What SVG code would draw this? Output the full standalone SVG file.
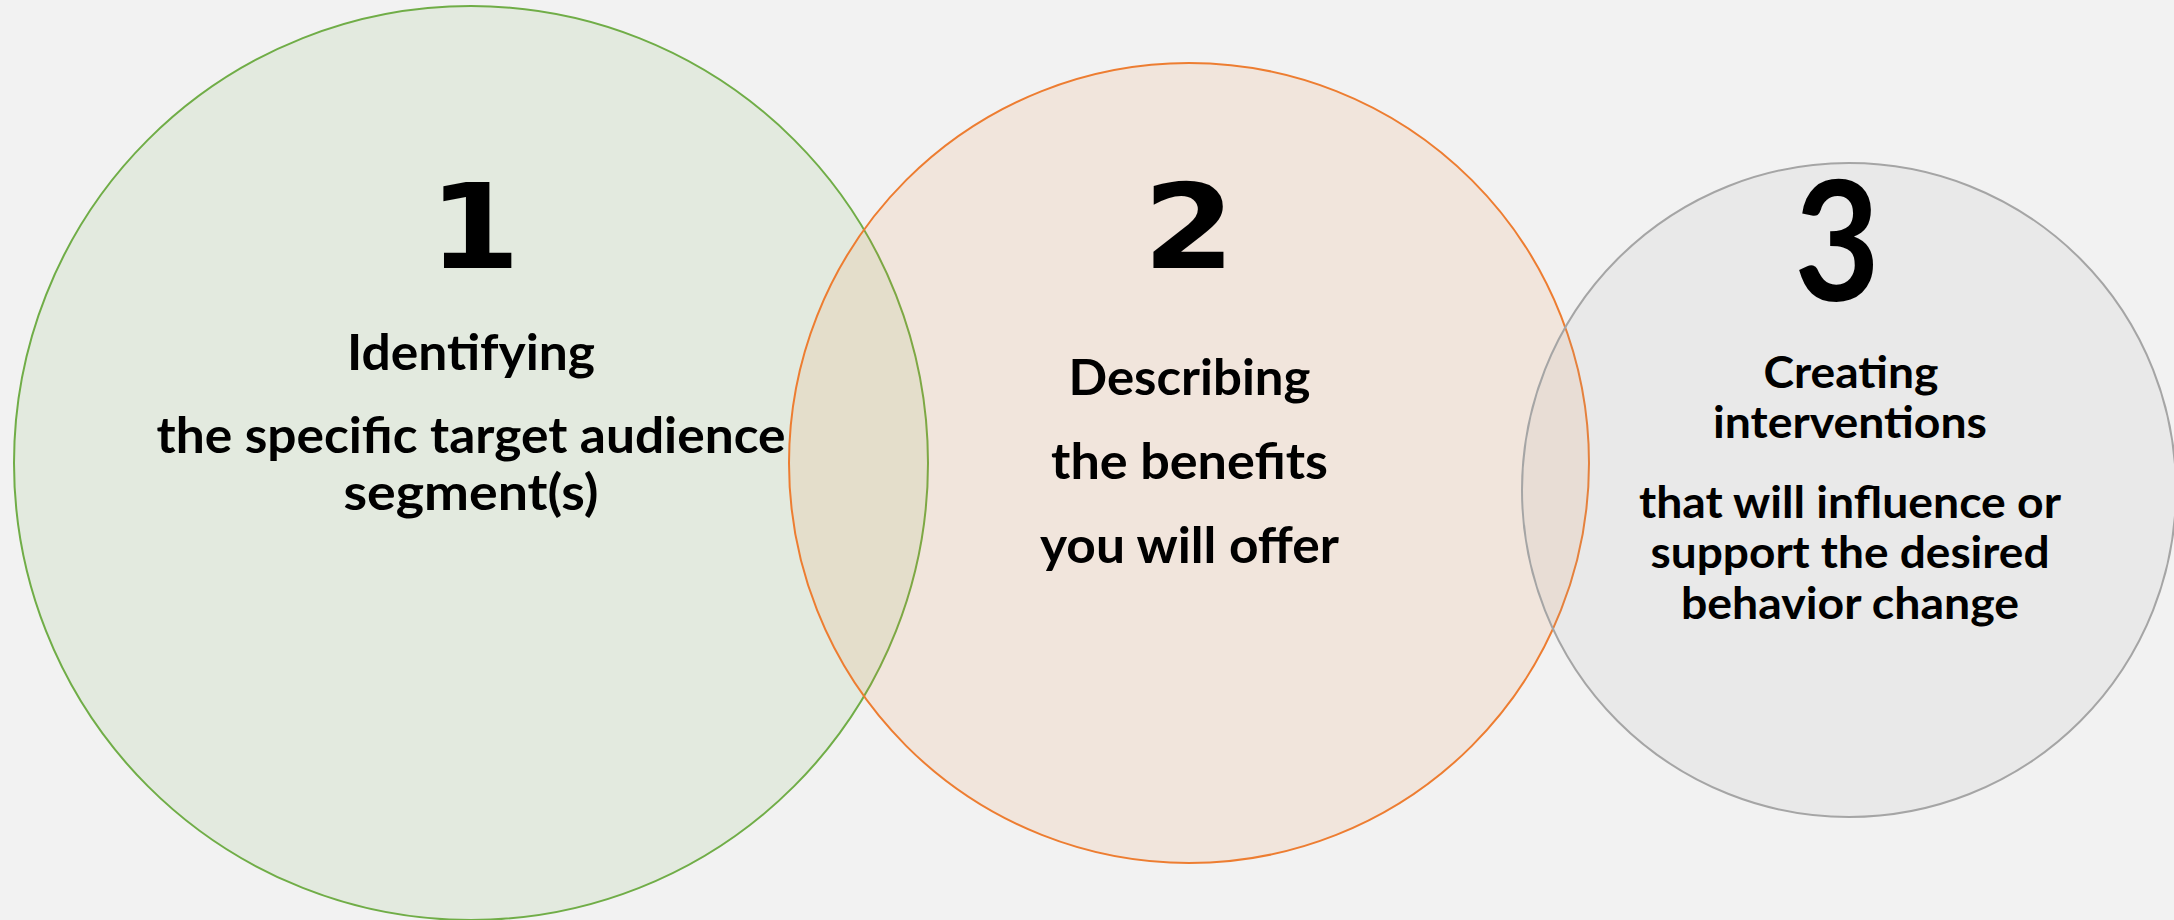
<svg xmlns="http://www.w3.org/2000/svg" width="2174" height="920" viewBox="0 0 2174 920">
<style>
.bg{fill:#f2f2f2}
.c{stroke-width:2}
.num{font-family:"DejaVu Sans",Verdana,sans-serif;font-weight:bold;fill:#000;text-anchor:middle;font-size:118px}
.num3{font-family:Lato,"Open Sans",sans-serif;font-weight:bold;fill:#000;text-anchor:middle;font-size:166px}
.t{font-family:Lato,"Open Sans",sans-serif;font-weight:bold;fill:#000;text-anchor:middle;font-size:50px}
.t3{font-size:43px}
</style>
<rect class="bg" x="0" y="0" width="2174" height="920"/>
<g id="node1">
<circle class="c" cx="471" cy="463" r="457" fill="#70ad47" fill-opacity="0.11" stroke="#70ad47"/>
<text class="num" transform="translate(474.5,268) scale(1.12,1)">1</text>
<text class="t" x="471" y="370" textLength="248" lengthAdjust="spacingAndGlyphs">Identifying</text>
<text class="t" x="471" y="453" textLength="629" lengthAdjust="spacingAndGlyphs">the specific target audience</text>
<text class="t" x="471" y="510" textLength="255" lengthAdjust="spacingAndGlyphs">segment(s)</text>
</g>
<g id="node2">
<circle class="c" cx="1189" cy="463" r="400" fill="#ed7d31" fill-opacity="0.11" stroke="#ed7d31"/>
<text class="num" transform="translate(1189,268) scale(1.12,1)">2</text>
<text class="t" x="1189.5" y="395" textLength="242" lengthAdjust="spacingAndGlyphs">Describing</text>
<text class="t" x="1189.5" y="479" textLength="277" lengthAdjust="spacingAndGlyphs">the benefits</text>
<text class="t" x="1189.5" y="563" textLength="299" lengthAdjust="spacingAndGlyphs">you will offer</text>
</g>
<g id="node3">
<circle class="c" cx="1849" cy="490" r="327" fill="#a5a5a5" fill-opacity="0.11" stroke="#a5a5a5"/>
<text class="num3" transform="translate(1837,301) scale(0.89,1)">3</text>
<text class="t t3" x="1851" y="388" textLength="175" lengthAdjust="spacingAndGlyphs">Creating</text>
<text class="t t3" x="1850" y="438" textLength="274" lengthAdjust="spacingAndGlyphs">interventions</text>
<text class="t t3" x="1850" y="518" textLength="422" lengthAdjust="spacingAndGlyphs">that will influence or</text>
<text class="t t3" x="1850" y="568" textLength="399" lengthAdjust="spacingAndGlyphs">support the desired</text>
<text class="t t3" x="1850" y="619" textLength="338" lengthAdjust="spacingAndGlyphs">behavior change</text>
</g>
</svg>
